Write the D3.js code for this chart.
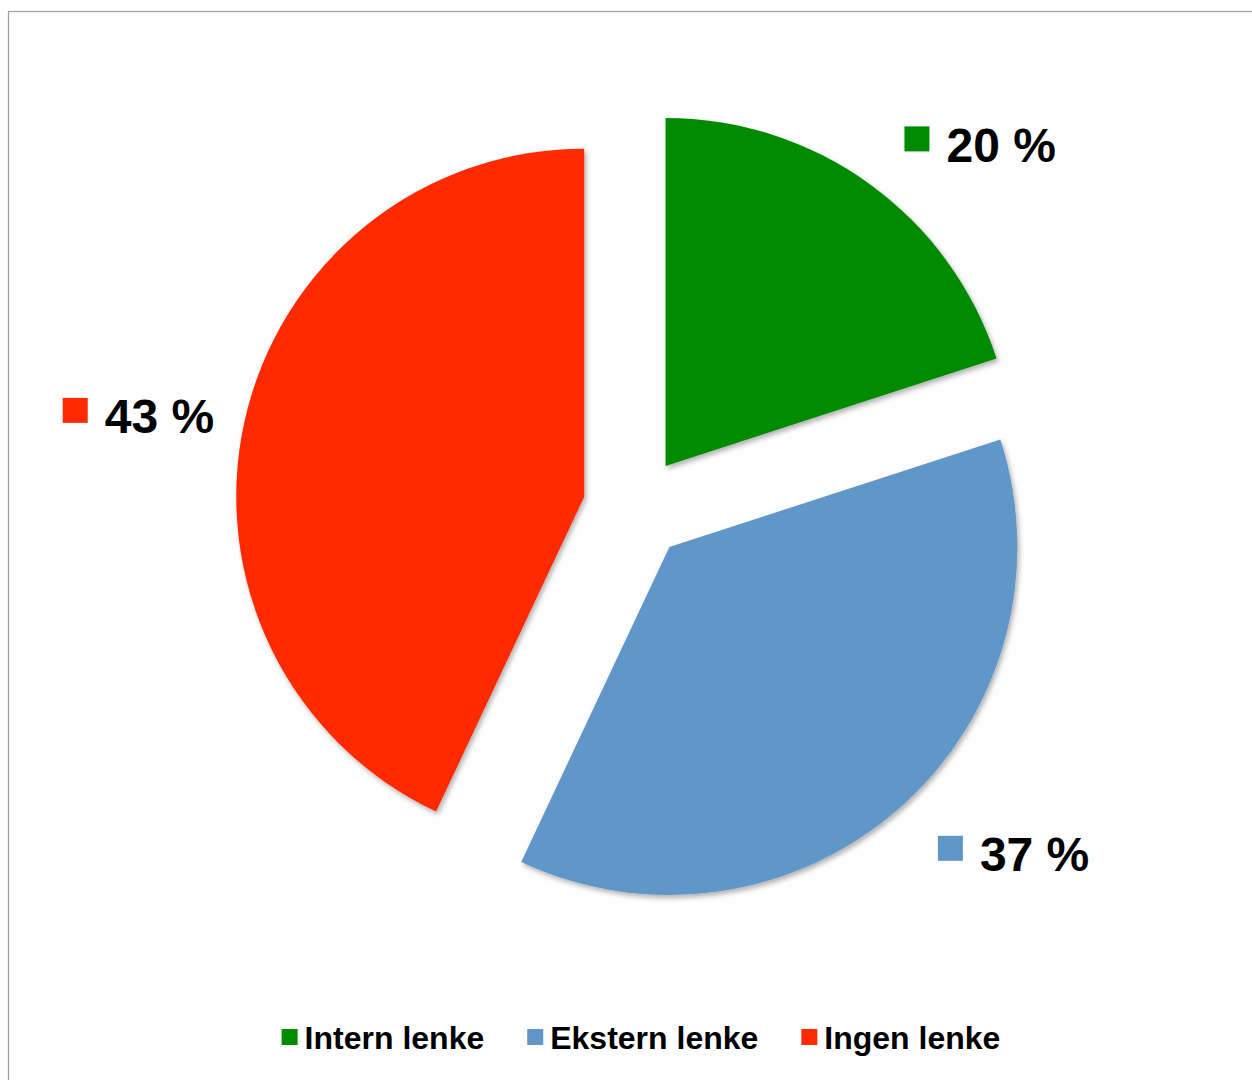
<!DOCTYPE html>
<html>
<head>
<meta charset="utf-8">
<script src="https://cdn.jsdelivr.net/npm/d3@7"></script>
<style>
  html, body { margin: 0; padding: 0; background: #fff; }
  svg { display: block; }
  text { font-family: "Liberation Sans", Arial, Helvetica, sans-serif; font-weight: bold; fill: #000; }
</style>
</head>
<body>
<svg id="chart" width="1252" height="1080"></svg>
<script>
// Share of links by type
const categories = ["Intern lenke", "Ekstern lenke", "Ingen lenke"];
const shares = [20, 37, 43];
const valueLabels = ["20 %", "37 %", "43 %"];
const colors = ["#008a00", "#6096c8", "#ff2a00"];

const W = 1252, H = 1080;
const svg = d3.select("#chart");

// chart frame
svg.append("rect")
  .attr("x", 8.5).attr("y", 11.5)
  .attr("width", W + 20).attr("height", H + 20)
  .attr("fill", "#fefefe")
  .attr("stroke", "#a3a3a3").attr("stroke-width", 1.3);

// soft shadow under each slice
const defs = svg.append("defs");
const f = defs.append("filter").attr("id", "shadow")
  .attr("x", "-10%").attr("y", "-10%").attr("width", "120%").attr("height", "120%");
f.append("feDropShadow")
  .attr("dx", 2).attr("dy", 3).attr("stdDeviation", 2.5)
  .attr("flood-color", "#000").attr("flood-opacity", 0.3);

const cx = 635, cy = 508;
const radius = 348;
const explode = 52;

const pie = d3.pie().sort(null).value(d => d);
const arcs = pie(shares);
const arc = d3.arc().innerRadius(0).outerRadius(radius);

const g = svg.append("g").attr("transform", `translate(${cx},${cy})`);

const mid = a => (a.startAngle + a.endAngle) / 2;

g.selectAll("path.slice")
  .data(arcs)
  .join("path")
  .attr("class", "slice")
  .attr("d", arc)
  .attr("fill", (d, i) => colors[i])
  .attr("filter", "url(#shadow)")
  .attr("transform", d => {
    const m = mid(d);
    return `translate(${explode * Math.sin(m)},${-explode * Math.cos(m)})`;
  });

// value labels: colour key square plus percentage, outside each slice
const sq = 25, gap = 17;
arcs.forEach((a, i) => {
  const m = mid(a);
  const right = Math.sin(m) >= 0;
  const r = right ? 455 : 420;
  const px = r * Math.sin(m);
  const py = -r * Math.cos(m) - (right ? 0 : 5);
  const lg = g.append("g");
  const t = lg.append("text")
    .attr("font-size", 48)
    .attr("y", py + 22)
    .text(valueLabels[i]);
  let sx;
  if (right) {
    sx = px + 2;
    t.attr("x", sx + sq + gap);
  } else {
    const tw = t.node().getComputedTextLength();
    const tx = px - 11 - tw;
    t.attr("x", tx);
    sx = tx - gap - sq;
  }
  lg.append("rect")
    .attr("x", sx).attr("y", py - 1 - sq / 2)
    .attr("width", sq).attr("height", sq)
    .attr("fill", colors[i]);
});

// legend along the bottom, centred
const legend = svg.append("g");
const ls = 16, lgap = 7, itemGap = 43, legY = 1037;
const items = categories.map((c, i) => {
  const it = legend.append("g");
  it.append("rect").attr("width", ls).attr("height", ls)
    .attr("y", legY - ls / 2).attr("fill", colors[i]);
  const tx = it.append("text").attr("font-size", 32)
    .attr("x", ls + lgap).attr("y", legY + 12).text(c);
  return { it, w: ls + lgap + tx.node().getComputedTextLength() };
});
const total = d3.sum(items, d => d.w) + itemGap * (items.length - 1);
let x0 = 641 - total / 2;
items.forEach(d => {
  d.it.attr("transform", `translate(${x0},0)`);
  x0 += d.w + itemGap;
});
</script>
</body>
</html>
